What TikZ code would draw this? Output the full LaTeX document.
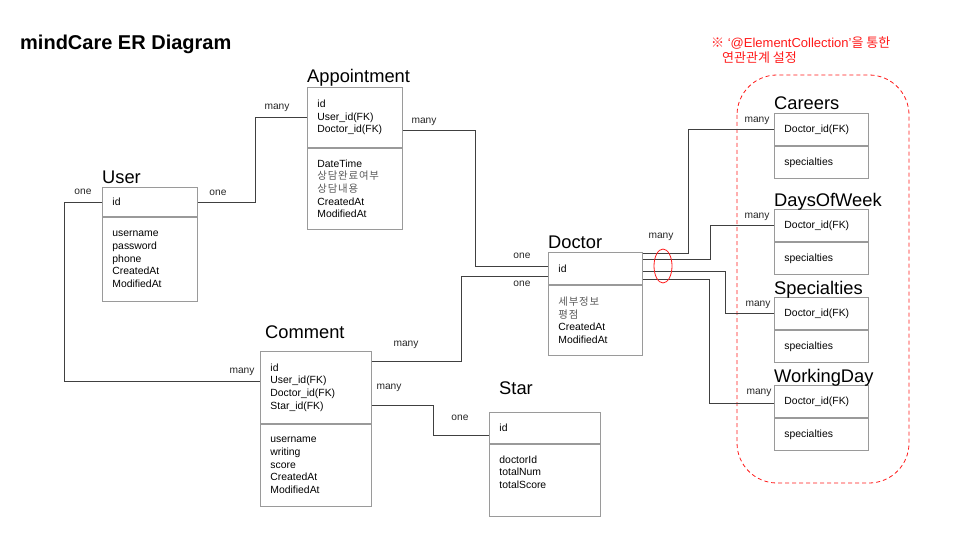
\documentclass[tikz,border=0pt]{standalone}
\usepackage{fontspec}
\setmainfont{Liberation Sans}
\newfontfamily\krfont{Noto Sans CJK KR}
\newfontfamily\krfield[LetterSpace=8]{Noto Sans CJK KR}
\usetikzlibrary{positioning}

\definecolor{boxgray}{HTML}{9A9A9A}
\definecolor{linegray}{HTML}{404040}
\definecolor{notered}{HTML}{FF1A1A}

\newcommand\fieldfont{\fontsize{10.4}{12.7}\selectfont}
\newcommand\kr[1]{{\krfield\color{black!65}#1}}

\tikzset{
  field/.style={draw=boxgray, line width=0.9pt, minimum width=#1, text width=#1-20pt,
    inner xsep=10pt, inner ysep=0pt, align=left, font=\fieldfont},
  keyfield/.style={field=#1, anchor=north west},
  entitle/.style={anchor=base west, inner sep=0pt, font=\fontsize{18.3}{20}\selectfont},
  rel/.style={draw=linegray, line width=0.8pt},
  card/.style={inner sep=0pt, font=\fontsize{10.2}{12}\selectfont, text=black!85}
}

\begin{document}
\begin{tikzpicture}[x=1pt, y=-1pt]
  \useasboundingbox (0,0) rectangle (960,540);

  % Heading and note
  \node[anchor=base west, inner sep=0pt, font=\bfseries\fontsize{20}{22}\selectfont] (heading) at (20,50) {mindCare ER Diagram};
  \node[anchor=base west, inner sep=0pt, text=notered, font=\fontsize{13}{15}\selectfont] (note1) at (711,48) {{\krfont ※} ‘@ElementCollection’{\krfont 을 통한}};
  \node[anchor=base west, inner sep=0pt, text=notered, font=\krfont\fontsize{13}{15}\selectfont] (note2) at (722,63) {연관관계 설정};

  % Entities: key part, then attributes below
  \node[keyfield=95pt, minimum height=29pt] (userkey) at (102,187) {id};
  \node[field=95pt, minimum height=84pt, below=0pt of userkey] (userattr) {username\\ password\\ phone\\ CreatedAt\\ ModifiedAt};
  \node[entitle] (usertitle) at ([yshift=4pt]userkey.north west) {User};

  \node[keyfield=95pt, minimum height=60pt] (apptkey) at (307,87) {id\\ User\_id(FK)\\ Doctor\_id(FK)};
  \node[field=95pt, minimum height=81pt, below=0pt of apptkey] (apptattr) {DateTime\\ \kr{상담완료여부}\\ \kr{상담내용}\\ CreatedAt\\ ModifiedAt};
  \node[entitle] (appttitle) at ([yshift=4pt]apptkey.north west) {Appointment};

  \node[keyfield=94pt, minimum height=32pt] (drkey) at (548,252) {id};
  \node[field=94pt, minimum height=70pt, below=0pt of drkey] (drattr) {\kr{세부정보}\\ \kr{평점}\\ CreatedAt\\ ModifiedAt};
  \node[entitle] (drtitle) at ([yshift=4pt]drkey.north west) {Doctor};

  \node[keyfield=111pt, minimum height=72pt] (cmtkey) at (260,351) {id\\ User\_id(FK)\\ Doctor\_id(FK)\\ Star\_id(FK)};
  \node[field=111pt, minimum height=82pt, below=0pt of cmtkey] (cmtattr) {username\\ writing\\ score\\ CreatedAt\\ ModifiedAt};
  \node[entitle] (cmttitle) at ([xshift=5pt,yshift=13pt]cmtkey.north west) {Comment};

  \node[keyfield=111pt, minimum height=31pt] (starkey) at (489,412) {id};
  \node[field=111pt, minimum height=72pt, below=0pt of starkey] (starattr) {doctorId\\ totalNum\\ totalScore\\ \strut};
  \node[entitle] (startitle) at ([xshift=10pt,yshift=18pt]starkey.north west) {Star};

  % Element collections
  \foreach \nm/\ttl/\ty in {car/Careers/113, dow/DaysOfWeek/209, spc/Specialties/297, wd/WorkingDay/385} {
    \node[keyfield=94pt, minimum height=32pt] (\nm key) at (774,\ty) {Doctor\_id(FK)};
    \node[field=94pt, minimum height=32pt, below=0pt of \nm key] (\nm attr) {specialties};
    \node[entitle] (\nm title) at ([yshift=3pt]\nm key.north west) {\ttl};
  }

  \draw[notered, line width=0.8pt, dash pattern=on 4pt off 3pt, rounded corners=40pt] (737,75) rectangle (909,483);

  % Relations
  \draw[rel] (userkey.east) -- ++(57,0) |- (apptkey.west);
  \draw[rel] (userkey.west) -- ++(-38,0) |- ([yshift=6pt]cmtkey.west);
  \draw[rel] ([yshift=-13pt]apptkey.east) -- ++(72,0) |- ([yshift=2pt]drkey.west);
  \draw[rel] ([yshift=26pt]cmtkey.east) -- ++(89,0) |- ([yshift=-8pt]drkey.west);
  \draw[rel] ([yshift=-18pt]cmtkey.east) -- ++(61,0) |- ([yshift=-7.5pt]starkey.west);

  \draw[rel] ([yshift=15pt]drkey.east) -- ++(45,0) |- (carkey.west);
  \draw[rel] ([yshift=9pt]drkey.east) -- ++(67,0) |- (dowkey.west);
  \draw[rel] ([yshift=-3pt]drkey.east) -- ++(82,0) |- (spckey.west);
  \draw[rel] ([yshift=-11pt]drkey.east) -- ++(66,0) |- ([yshift=-2pt]wdkey.west);
  \draw[notered, line width=0.8pt] (663,266) ellipse [x radius=9, y radius=17];

  % Cardinalities
  \node[card] (c1) at (218,193) {one};
  \node[card] (c2) at (277,108) {many};
  \node[card] (c3) at (83,192) {one};
  \node[card] (c4) at (242,372) {many};
  \node[card] (c5) at (424,122) {many};
  \node[card] (c6) at (522,256) {one};
  \node[card] (c7) at (522,284) {one};
  \node[card] (c8) at (406,345) {many};
  \node[card] (c9) at (389,388) {many};
  \node[card] (c10) at (460,418) {one};
  \node[card] (c11) at (661,237) {many};
  \node[card] (c12) at (757,121) {many};
  \node[card] (c13) at (757,217) {many};
  \node[card] (c14) at (758,305) {many};
  \node[card] (c15) at (759,393) {many};
\end{tikzpicture}
\end{document}
